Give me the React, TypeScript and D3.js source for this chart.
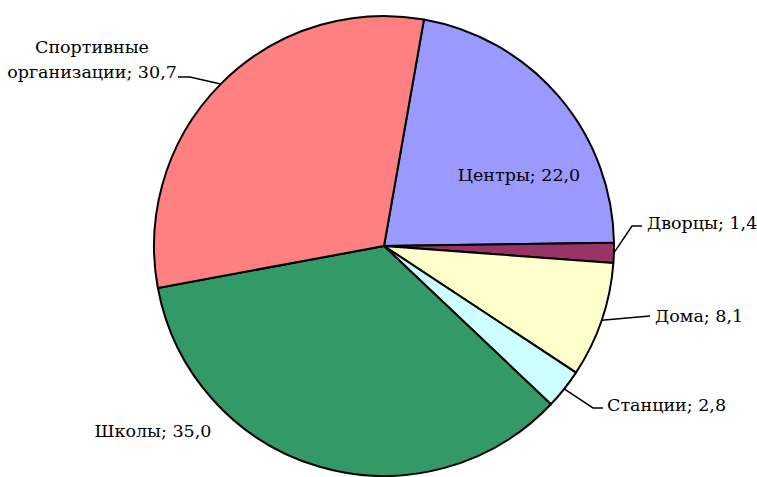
import React, { useEffect, useRef } from 'react';
import * as d3 from 'd3';

// категории и значения
const categories = ['Центры', 'Дворцы', 'Дома', 'Станции', 'Школы', 'Спортивные организации'];
const values = [22.0, 1.4, 8.1, 2.8, 35.0, 30.7];
const colors = ['#9999FF', '#993366', '#FFFFCC', '#CCFFFF', '#339966', '#FF8080'];

// размещение подписей (lines, x, y, anchor, leader elbow)
const labelLayout = [
  { lines: ['Центры; 22,0'], x: 519, y: 181, anchor: 'middle', elbow: null },
  { lines: ['Дворцы; 1,4'], x: 647, y: 229, anchor: 'start', elbow: [[632, 226], [642, 226]] },
  { lines: ['Дома; 8,1'], x: 655, y: 322, anchor: 'start', elbow: [[650, 316]] },
  { lines: ['Станции; 2,8'], x: 607, y: 411, anchor: 'start', elbow: [[593, 408], [603, 408]] },
  { lines: ['Школы; 35,0'], x: 153, y: 437, anchor: 'middle', elbow: null },
  { lines: ['Спортивные', 'организации; 30,7'], x: 92, y: 53, anchor: 'middle', elbow: [[190, 77], [178, 77]] },
];

const App = () => {
  const ref = useRef<SVGSVGElement>(null);

  useEffect(() => {
    const svg = d3.select(ref.current);
    svg.selectAll('*').remove();

    const cx = 384;
    const cy = 246;
    const r = 230;

    const data = categories.map((c, i) => ({ name: c, value: values[i], color: colors[i] }));

    const startA = (10 * Math.PI) / 180;
    const pie = d3
      .pie<any>()
      .value(d => d.value)
      .sort(null)
      .startAngle(startA)
      .endAngle(startA + 2 * Math.PI);

    const arc = d3.arc<any>().innerRadius(0).outerRadius(r);
    const arcs = pie(data);

    const g = svg.append('g').attr('transform', `translate(${cx},${cy})`);

    g.selectAll('path')
      .data(arcs)
      .enter()
      .append('path')
      .attr('d', arc)
      .attr('fill', d => d.data.color)
      .attr('stroke', '#000')
      .attr('stroke-width', 2)
      .attr('stroke-linejoin', 'round');

    // линии-выноски
    arcs.forEach((a, i) => {
      const lay = labelLayout[i];
      if (!lay.elbow) return;
      const mid = (a.startAngle + a.endAngle) / 2;
      const px = cx + r * Math.sin(mid);
      const py = cy - r * Math.cos(mid);
      const pts = [[px, py], ...lay.elbow];
      svg
        .append('path')
        .attr('d', d3.line()(pts as [number, number][]))
        .attr('fill', 'none')
        .attr('stroke', '#000')
        .attr('stroke-width', 1.5);
    });

    // подписи
    labelLayout.forEach(lay => {
      const t = svg
        .append('text')
        .attr('x', lay.x)
        .attr('y', lay.y)
        .attr('text-anchor', lay.anchor)
        .style('font-family', "'DejaVu Serif', serif")
        .style('font-size', '17.5px')
        .attr('fill', '#000');
      lay.lines.forEach((ln, j) => {
        t.append('tspan').attr('x', lay.x).attr('dy', j === 0 ? 0 : 25).text(ln);
      });
    });
  }, []);

  return (
    <svg
      ref={ref}
      width={757}
      height={477}
      style={{ position: 'absolute', left: 0, top: 0, background: '#fff' }}
    />
  );
};

export default App;
